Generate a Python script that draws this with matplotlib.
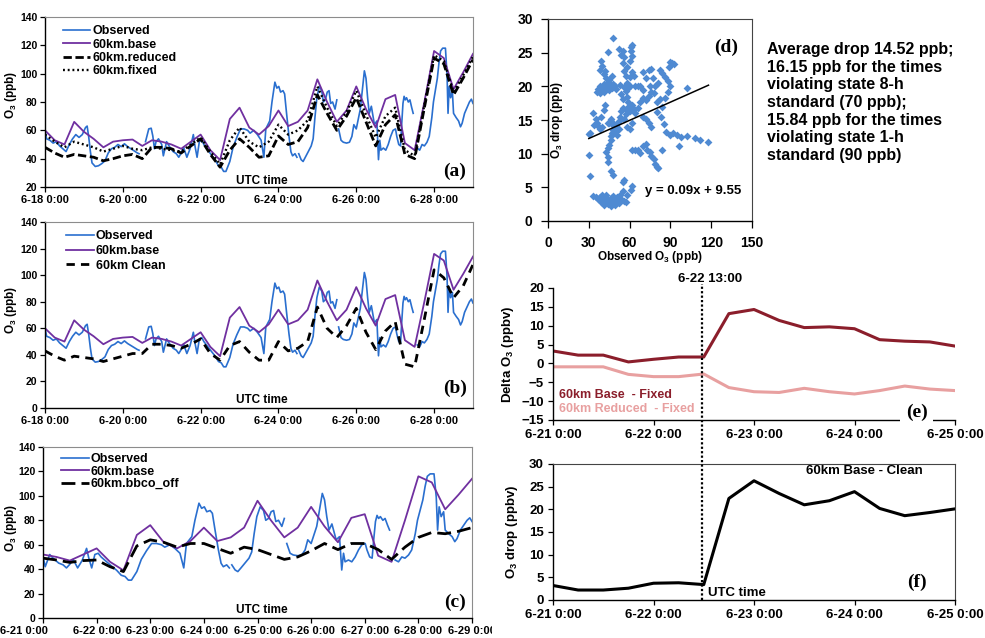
import numpy as np
import matplotlib
matplotlib.use('Agg')
import matplotlib.pyplot as plt
from matplotlib.lines import Line2D
from matplotlib.transforms import Bbox, TransformedBbox, ScaledTranslation

# ── Fonts / style ─────────────────────────────────────────────────────────────
FONT  = 'Liberation Sans'
SERIF = 'Liberation Serif'
plt.rcParams['font.family'] = FONT
plt.rcParams['font.weight'] = 'bold'
plt.rcParams['mathtext.fontset'] = 'custom'
plt.rcParams['mathtext.rm'] = 'Liberation Sans:bold'
plt.rcParams['mathtext.it'] = 'Liberation Sans:bold'
plt.rcParams['mathtext.bf'] = 'Liberation Sans:bold'
plt.rcParams['mathtext.default'] = 'rm'

W, H = 985, 638

OBS_C   = '#2A6FCF'
BASE_C  = '#7030A0'
SCAT_C  = '#4F8AD2'
DARK_C  = '#8B1E2B'
PINK_C  = '#E8A0A0'

# ── Data ──────────────────────────────────────────────────────────────────────
# observed O3 (hours since 6-18 0:00, ppb); NaN marks a gap in the record
obs_points = [
    (0, 60), (1, 54), (3, 53), (5, 51), (7, 52), (9, 49), (11, 47), (13, 45), (15, 50),
    (17, 54), (19, 57), (21, 55), (23, 57), (25, 62), (26, 63), (27, 55), (28, 45),
    (29, 37), (31, 34.5), (33, 35), (35, 36.5), (37, 38.5), (39, 44), (41, 47), (43, 48),
    (45, 50), (47, 48.5), (49, 50.5), (51, 48.5), (53, 47), (55, 45.5), (57, 44), (58, 43.5),
    (60, np.nan),
    (62, 52), (64, 61), (65.5, 61.5), (66.5, 56), (67.5, 47), (68.5, 52), (70, 54), (72, 50),
    (73, 42), (75, 52), (76.5, 49), (79, 45), (81, 43.5), (82.5, 41), (84, 44), (85.5, 48),
    (87.5, 41), (89.5, 47), (91.5, 57), (92.5, 49), (93.8, 41), (95.2, 52), (96.7, 53),
    (98, 50), (100.5, 46), (102.7, 42.5), (105, 39), (107, 35), (108.7, 34), (110.2, 31),
    (111.6, 31), (114, 38), (116, 48), (118.3, 55), (120.6, 61), (122.8, 61), (125, 60),
    (126.5, 58), (128.8, 60), (131, 57), (133.3, 53), (135, 41), (136.2, 61), (138.6, 66.6),
    (140, 80), (141.8, 94), (143, 89.8), (144.2, 91), (145.3, 87), (146.8, 88), (147.8, 85.7),
    (149, 72), (150.5, 55.7), (151.7, 44.8), (152.7, 42), (154.2, 43.5), (155.4, 41),
    (156, np.nan),
    (156.5, 43.5), (158, 39.3), (159.2, 38), (160.6, 41), (162.4, 45), (164.2, 49),
    (165.4, 54), (166.5, 69), (167.7, 83), (169.2, 91), (170.7, 88), (171.7, 80),
    (172.9, 81.5), (174.1, 87), (175.2, 88), (176.2, 79), (177.4, 80), (178.9, 75), (180, 81.5),
    (180.5, np.nan),
    (181.1, 61), (182.6, 53), (184, 51.6), (186, 51), (187.8, 51.6), (189.3, 55.7),
    (190.5, 64), (192, 61), (193, 66.6), (194.5, 75), (196, 91), (197, 102), (198, 96.7),
    (199, 83), (200, 72), (201.3, 77), (202.3, 70), (203.2, 64), (204.7, 66.6), (205.7, 39.3),
    (206.5, 53), (207.2, 46), (208.7, 47.5), (210.2, 46), (211.7, 50), (213.2, 55.7),
    (214.7, 60), (216.2, 61), (217, 55.7), (218.2, 50), (219.3, 49), (220, 64), (220.8, 79),
    (221.5, 84), (222.2, 81.5), (223, 83), (224.1, 80), (225.1, 81.5), (226.2, 76), (227.1, 72),
    (228, np.nan),
    (229.6, 47.5), (231.1, 46), (232.6, 50), (234, 49), (235.6, 51.6), (237, 55.7),
    (238.6, 69), (239.6, 80), (240.8, 88.4), (242, 96.7), (243, 107.6), (244, 116),
    (245.3, 118), (246, 118), (247, 118), (248, 99), (248.6, 72), (249.3, 91), (250.2, 83),
    (251.3, 87), (252, 72), (253.6, 69), (255.1, 66.6), (256.3, 62.5), (257.3, 65),
    (258.8, 72), (260.3, 76), (261.8, 80), (263, 82), (264, 79),
]
obs_hours = np.array([p[0] for p in obs_points])
obs_o3    = np.array([p[1] for p in obs_points])

# model O3, 6-hourly from 6-18 0:00 (ppb)
model_step = 6
base    = [60, 53, 50, 66, 59, 54, 48, 52, 53, 53.5, 49, 53, 52, 50, 47, 52, 57, 46, 39, 68,
           76, 62, 57, 63, 74, 63, 66, 74, 96, 80, 66, 74, 91, 75, 62, 82, 85, 51, 46, 80,
           116, 111, 89, 101, 114]
reduced = [48, 44, 41, 43, 42, 41, 38.5, 40, 42, 43, 40, 48, 48, 47, 44, 49, 54, 43, 34, 46,
           54, 48, 41, 42, 56, 50, 52, 62, 85, 72, 60, 70, 83, 66, 49, 64, 71, 43, 40, 76,
           111, 107, 85, 97, 110]
fixed   = [57, 52, 48, 52, 50, 48, 45, 47, 49, 47, 46, 48, 47, 46, 45, 50, 55, 45, 36, 53,
           62, 52, 48, 52, 64, 57, 60, 67, 91, 76, 63, 73, 88, 71, 55, 70, 76, 46, 42, 78,
           113, 109, 87, 99, 112]
clean   = [43, 39, 36, 39, 38, 37, 35, 37, 39, 41, 41, 48, 48, 47, 45, 48, 52, 41, 36, 47,
           50, 42, 36, 36, 50, 43, 45, 50, 76, 60, 53, 62, 75, 57, 44, 58, 65, 33, 31, 67,
           104, 98, 83, 92, 108]
# bbco_off run, 6-hourly from 6-21 0:00
bbco_start = 72
bbco_off = [49, 47.5, 45.5, 47, 47.5, 42, 38, 59, 64, 62, 58, 61, 61, 57, 53, 58, 56, 52,
            48, 50, 55, 61, 56, 61, 61, 56, 48, 58, 66, 70, 69, 71, 74]

# (d) observed O3 vs O3 drop (ppb)
scatter_points = [
    (33, 3.7), (35, 3.5), (37, 3.2), (38, 3.6), (39, 2.8), (40, 3.1), (40, 3.8), (41, 2.4),
    (42, 2.7), (42, 3.3), (43, 3.9), (44, 2.5), (44, 3.1), (45, 2.9), (46, 3.4), (46, 2.3),
    (47, 2.6), (48, 3.0), (48, 3.7), (49, 2.4), (50, 3.2), (50, 2.8), (51, 3.5), (52, 2.6),
    (53, 3.9), (54, 3.2), (55, 4.4), (56, 2.9), (57, 2.8), (58, 3.9), (62, 5.2), (61, 4.6),
    (56, 6.1), (55, 5.8), (31, 6.7), (30, 9.8), (30, 12.9),
    (48, 6.8), (46, 7.5), (44, 8.8), (44, 9.5), (43, 10.2), (44, 10.8), (45, 11.3), (46, 12.0),
    (46, 12.6), (47, 13.1), (48, 13.5), (49, 13.9), (50, 13.3), (51, 12.8), (52, 13.6),
    (50, 14.2), (48, 14.6), (47, 14.4), (45, 14.6), (44, 14.5), (46, 15.1),
    (33, 16.0), (35, 15.2), (36, 14.6), (37, 14.1), (38, 13.6), (39, 15.5), (40, 14.0),
    (41, 16.5), (42, 17.2), (34, 14.3), (31, 13.0),
    (36, 19.2), (37, 19.6), (38, 19.0), (38, 20.0), (39, 19.4), (40, 19.8), (41, 19.1),
    (41, 20.4), (42, 19.6), (43, 20.1), (43, 21.3), (44, 20.7), (45, 19.5), (45, 21.0),
    (46, 20.2), (47, 19.8), (47, 21.5), (48, 20.4), (49, 20.0), (50, 19.6),
    (38, 22.5), (39, 23.8), (40, 23.0), (42, 22.3), (44, 25.1), (48, 27.2), (41, 21.8),
    (52, 25.6), (54, 24.6), (55, 23.5), (56, 24.4), (56, 22.3), (57, 21.5), (58, 22.9),
    (58, 20.5), (59, 19.8), (60, 21.4), (60, 20.0), (61, 25.9), (62, 26.2), (61, 25.2),
    (62, 24.5), (60, 23.8), (55, 25.2), (57, 19.3), (53, 20.2), (54, 18.8), (55, 18.1),
    (56, 19.9), (58, 18.4), (59, 17.6), (62, 22.1), (63, 21.6), (64, 20.0),
    (52, 14.9), (53, 15.5), (54, 16.3), (55, 16.8), (56, 15.2), (57, 15.9), (58, 16.5),
    (59, 17.0), (60, 16.3), (61, 16.9), (62, 17.3), (63, 16.7), (64, 16.1), (58, 13.9),
    (60, 13.6), (62, 14.5),
    (66, 16.8), (68, 17.6), (70, 18.3), (72, 17.9), (74, 18.6), (76, 19.2), (78, 19.0),
    (80, 17.6), (82, 18.1), (84, 16.9), (83, 15.5), (85, 14.4), (87, 13.2), (80, 16.2),
    (79, 20.1), (81, 20.5), (82, 22.4), (84, 22.0), (86, 21.4), (88, 20.8), (89, 22.9),
    (90, 23.6), (91, 23.4), (93, 23.3), (90, 20.1), (88, 19.2), (86, 18.3), (96, 11.1),
    (98, 12.5), (102, 12.6), (102, 19.7), (108, 12.3), (112, 12.1), (118, 11.8),
    (66, 20.0), (68, 20.1), (70, 22.2), (72, 21.3), (74, 22.4), (76, 22.6), (70, 19.4),
    (75, 20.0), (77, 21.2),
    (62, 10.5), (64, 10.5), (66, 10.6), (68, 10.1), (70, 11.2), (72, 11.5), (73, 10.5),
    (75, 10.2), (76, 9.6), (78, 9.2), (79, 8.5), (80, 8.0), (81, 7.9), (72, 15.2), (74, 14.5),
    (76, 14.0), (70, 15.5), (84, 10.6), (90, 12.8), (92, 13.0), (95, 12.7),
]
scat_obs  = [p[0] for p in scatter_points]
scat_drop = [p[1] for p in scatter_points]
fit_slope, fit_icpt = 0.09, 9.55
fit_range = [30, 118]

# (e)/(f) differences, 6-hourly from 6-21 0:00 (ppbv)
diff_step = 6
base_minus_fixed    = [3.3, 2.2, 2.2, 0.4, 1.1, 1.7, 1.7, 13.2, 14.3, 11.4, 9.5, 9.7, 9.2,
                       6.3, 5.9, 5.7, 4.6]
reduced_minus_fixed = [-0.9, -0.9, -0.9, -2.9, -3.5, -3.5, -2.8, -6.4, -7.5, -7.7, -6.6,
                       -7.5, -8.1, -7.2, -6.0, -6.8, -7.2]
base_minus_clean    = [3.2, 2.2, 2.2, 2.6, 3.7, 3.8, 3.4, 22.4, 26.3, 23.5, 21.0, 21.9, 23.9,
                       20.2, 18.6, 19.3, 20.1]
event_hour = 35.6   # 6-22 13:00 marker (hours since 6-21 0:00, as drawn)

tick_a_hours  = [0, 48, 96, 144, 192, 240]
tick_a_labels = ['6-18 0:00', '6-20 0:00', '6-22 0:00', '6-24 0:00', '6-26 0:00', '6-28 0:00']
tick_c_hours  = [72, 96, 120, 144, 168, 192, 216, 240, 264]
tick_c_labels = ['6-21 0:00', '6-22 0:00', '6-23 0:00', '6-24 0:00', '6-25 0:00',
                 '6-26 0:00', '6-27 0:00', '6-28 0:00', '6-29 0:00']
tick_e_hours  = [0, 24, 48, 72, 96]
tick_e_labels = ['6-21 0:00', '6-22 0:00', '6-23 0:00', '6-24 0:00', '6-25 0:00']

model_hours = np.arange(len(base)) * model_step
bbco_hours  = bbco_start + np.arange(len(bbco_off)) * model_step
diff_hours  = np.arange(len(base_minus_fixed)) * diff_step

# ── Figure helpers ────────────────────────────────────────────────────────────
fig = plt.figure(figsize=(W / 100, H / 100), dpi=100, facecolor='white')


def px_axes(left, top, right, bottom):
    return fig.add_axes([left / W, 1 - bottom / H, (right - left) / W, (bottom - top) / H])


def ftext(x, y, s, **kw):
    return fig.text(x / W, 1 - y / H, s, **kw)


def excel_axes(ax, box_color='#8c8c8c', box=True, fs=7.5, pad=2):
    for side in ['left', 'bottom']:
        ax.spines[side].set_color('black')
        ax.spines[side].set_linewidth(1.0)
    for side in ['top', 'right']:
        ax.spines[side].set_visible(box)
        ax.spines[side].set_color(box_color)
        ax.spines[side].set_linewidth(0.8)
    ax.tick_params(direction='out', length=3.5, width=0.9, labelsize=fs, pad=pad,
                   colors='black')


def time_panel(ax, legend_rows, legend_anchor, spacing, ylim, yticks, xlim, xticks, xlabels):
    excel_axes(ax, fs=7.5)
    ax.tick_params(axis='x', labelsize=8)
    ax.set_xlim(*xlim)
    ax.set_ylim(*ylim)
    ax.set_yticks(yticks)
    ax.set_xticks(xticks)
    ax.set_xticklabels(xlabels)
    ax.legend(handles=legend_rows, loc='upper left', bbox_to_anchor=legend_anchor,
              frameon=False, fontsize=9, handlelength=2.2, handletextpad=0.15,
              labelspacing=spacing, borderaxespad=0, borderpad=0)


dash = (0, (3.0, 1.3))
dot  = (0, (0.8, 1.2))

# ── (a) ───────────────────────────────────────────────────────────────────────
ax_a = px_axes(45, 17, 473, 187)
l_obs,  = ax_a.plot(obs_hours, obs_o3, color=OBS_C, lw=1.2, label='Observed')
l_base, = ax_a.plot(model_hours, base, color=BASE_C, lw=1.3, label='60km.base')
l_red,  = ax_a.plot(model_hours, reduced, color='black', ls=dash, lw=2.0, label='60km.reduced')
l_fix,  = ax_a.plot(model_hours, fixed, color='black', ls=dot, lw=1.7, label='60km.fixed')
time_panel(ax_a, [l_obs, l_base, l_red, l_fix], (0.042, 0.95), 0.1, (20, 140),
           range(20, 141, 20), (0, 264), tick_a_hours, tick_a_labels)
ftext(262, 181, 'UTC time', ha='center', va='center', fontsize=8.5)
ftext(455, 171, '(a)', ha='center', va='center', fontsize=14, family=SERIF)

# ── (b) ───────────────────────────────────────────────────────────────────────
ax_b = px_axes(45, 222, 473, 408)
l_obs,  = ax_b.plot(obs_hours, obs_o3, color=OBS_C, lw=1.2, label='Observed')
l_base, = ax_b.plot(model_hours, base, color=BASE_C, lw=1.3, label='60km.base')
l_cln,  = ax_b.plot(model_hours, clean, color='black', ls=(0, (3.0, 2.2)), lw=2.0,
                    label='60km Clean')
time_panel(ax_b, [l_obs, l_base, l_cln], (0.05, 0.955), 0.22, (0, 140),
           range(0, 141, 20), (0, 264), tick_a_hours, tick_a_labels)
ftext(262, 400, 'UTC time', ha='center', va='center', fontsize=8.5)
ftext(455, 388, '(b)', ha='center', va='center', fontsize=14, family=SERIF)

# ── (c) ───────────────────────────────────────────────────────────────────────
ax_c = px_axes(43, 447, 472, 618)
l_obs,  = ax_c.plot(obs_hours, obs_o3, color=OBS_C, lw=1.2, label='Observed')
l_base, = ax_c.plot(model_hours, base, color=BASE_C, lw=1.3, label='60km.base')
l_bb,   = ax_c.plot(bbco_hours, bbco_off, color='black', ls=(0, (5.0, 2.2)), lw=2.0,
                    label='60km.bbco_off')
time_panel(ax_c, [l_obs, l_base, l_bb], (0.042, 0.965), 0.05, (0, 140),
           range(0, 141, 20), (72, 264), tick_c_hours, tick_c_labels)
ftext(262, 610, 'UTC time', ha='center', va='center', fontsize=8.5)
ftext(455, 602, '(c)', ha='center', va='center', fontsize=14, family=SERIF)

# label clipping / shifting like the source composite
clip = TransformedBbox(Bbox([[0, 0], [492 / W, 1]]), fig.transFigure)
c_labels = ax_c.get_xticklabels()
for lab in c_labels:
    lab.set_clip_box(clip)
    lab.set_clip_on(True)
c_labels[0].set_transform(c_labels[0].get_transform()
                          + ScaledTranslation(-0.19, 0, fig.dpi_scale_trans))

for y in (95, 310, 528):
    ftext(11, y, 'O$_3$ (ppb)', rotation=90, ha='center', va='center', fontsize=8.5)

# ── (d) ───────────────────────────────────────────────────────────────────────
ax_d = px_axes(548, 19, 752, 221)
excel_axes(ax_d, box_color='#444444', fs=10, pad=6)
ax_d.tick_params(length=5)
ax_d.scatter(scat_obs, scat_drop, marker='D', s=16, color=SCAT_C, linewidths=0, zorder=3)
fx = np.array(fit_range, dtype=float)
ax_d.plot(fx, fit_slope * fx + fit_icpt, color='black', lw=1.1, zorder=4)
ax_d.set_xlim(0, 150)
ax_d.set_ylim(0, 30)
ax_d.set_xticks(range(0, 151, 30))
ax_d.set_yticks(range(0, 31, 5))
ftext(650, 257, 'Observed O$_3$ (ppb)', ha='center', va='center', fontsize=8.5)
ftext(557, 120, 'O$_3$ drop (ppb)', rotation=90, ha='center', va='center', fontsize=8.5)
ftext(726, 47, '(d)', ha='center', va='center', fontsize=14, family=SERIF)
ftext(693, 191, 'y = 0.09x + 9.55', ha='center', va='center', fontsize=9.5)

ftext(767, 42, 'Average drop 14.52 ppb;\n16.15 ppb for the times\nviolating state 8-h\n'
      'standard (70 ppb);\n15.84 ppb for the times\nviolating state 1-h\nstandard (90 ppb)',
      ha='left', va='top', fontsize=11.5, linespacing=1.22)

# ── (e) ───────────────────────────────────────────────────────────────────────
ax_e = px_axes(553, 288, 955, 420)
excel_axes(ax_e, box=False, fs=9.5, pad=3)
ax_e.plot(diff_hours, base_minus_fixed, color=DARK_C, lw=2.2)
ax_e.plot(diff_hours, reduced_minus_fixed, color=PINK_C, lw=2.2)
ax_e.set_xlim(0, 96)
ax_e.set_ylim(-15, 20)
ax_e.set_yticks(range(-15, 21, 5))
ax_e.set_xticks(tick_e_hours)
ax_e.set_xticklabels(tick_e_labels)
ax_e.text(0.015, 0.19, '60km Base  - Fixed', transform=ax_e.transAxes, color=DARK_C,
          fontsize=9, va='center')
ax_e.text(0.015, 0.085, '60km Reduced  - Fixed', transform=ax_e.transAxes, color=PINK_C,
          fontsize=9, va='center')
ax_e.text(0.905, 0.06, '(e)', transform=ax_e.transAxes, fontsize=14, family=SERIF,
          ha='center', va='center', zorder=5,
          bbox=dict(facecolor='white', edgecolor='none', pad=4), clip_on=False)
ftext(508, 354, 'Delta O$_3$ (ppbv)', rotation=90, ha='center', va='center', fontsize=9.5)

# ── (f) ───────────────────────────────────────────────────────────────────────
ax_f = px_axes(553, 464, 955, 600)
excel_axes(ax_f, box_color='#444444', fs=9.5, pad=3)
ax_f.plot(diff_hours, base_minus_clean, color='black', lw=2.2)
ax_f.set_xlim(0, 96)
ax_f.set_ylim(0, 30)
ax_f.set_yticks(range(0, 31, 5))
ax_f.set_xticks(tick_e_hours)
ax_f.set_xticklabels(tick_e_labels)
ax_f.text(0.775, 0.945, '60km Base - Clean', transform=ax_f.transAxes, fontsize=9.5,
          ha='center', va='center')
ax_f.text(0.385, 0.05, 'UTC time', transform=ax_f.transAxes, fontsize=9.5,
          ha='left', va='center')
ax_f.text(0.905, 0.13, '(f)', transform=ax_f.transAxes, fontsize=14, family=SERIF,
          ha='center', va='center')
ftext(512, 532, 'O$_3$ drop (ppbv)', rotation=90, ha='center', va='center', fontsize=9.5)

# event marker spanning (e) and (f)
x_evt = (ax_e.transData + fig.transFigure.inverted()).transform((event_hour, 0))[0]
fig.add_artist(Line2D([x_evt, x_evt], [1 - 600 / H, 1 - 284 / H], transform=fig.transFigure,
                      color='black', ls=(0, (1, 1)), lw=1.6))
fig.text(x_evt + 8 / W, 1 - 279 / H, '6-22 13:00', ha='center', va='center', fontsize=9.5)

fig.savefig('out.png', dpi=100, facecolor='white')
